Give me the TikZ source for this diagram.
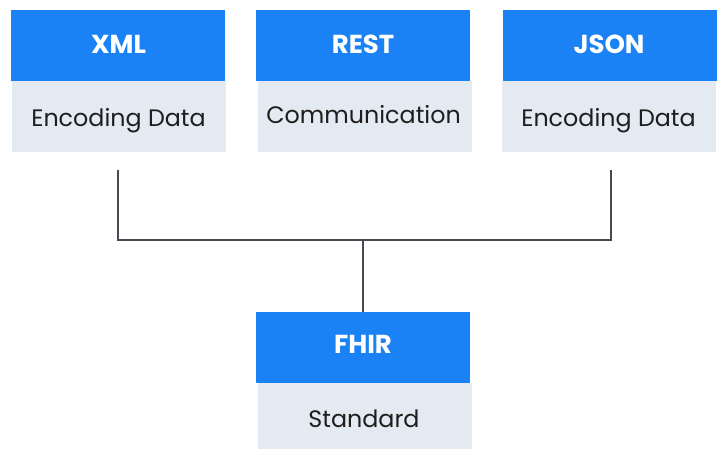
\documentclass[tikz,border=0pt]{standalone}
\usepackage{fontspec}
\setmainfont{Poppins}
\usetikzlibrary{calc}
\definecolor{hdrblue}{HTML}{1A82F5}
\definecolor{bodygrey}{HTML}{E4EAF2}
\definecolor{linegrey}{HTML}{464B53}
\definecolor{bodytext}{HTML}{1E1E1E}
\tikzset{
  hdr/.style={anchor=north west, fill=hdrblue, minimum width=214pt, minimum height=71pt,
    inner sep=0pt, outer sep=0pt},
  bodybox/.style={anchor=north west, fill=bodygrey, minimum width=214pt, minimum height=71pt,
    inner sep=0pt, outer sep=0pt},
  hdrtext/.style={anchor=base, text=white, font=\fontsize{26}{30}\selectfont\bfseries, inner sep=0pt},
  bodytxt/.style={anchor=base, text=bodytext, font=\fontsize{23.8}{28}\selectfont, inner sep=0pt},
  conn/.style={draw=linegrey, line width=1.4pt}
}
\begin{document}
\begin{tikzpicture}[x=1pt,y=-1pt]
\useasboundingbox (0,0) rectangle (722,448);
% boxes
\node[hdr] (xmlh) at (11,10) {};
\node[bodybox] (xmlb) at (12,81) {};
\node[hdr] (resth) at (256,10) {};
\node[bodybox] (restb) at (258,81) {};
\node[hdr] (jsonh) at (503,10) {};
\node[bodybox] (jsonb) at (502,81) {};
\node[hdr] (fhirh) at (256,312) {};
\node[bodybox, minimum height=67pt] (fhirb) at (258,383) {};
% texts
\node[hdrtext] (xmlt) at (118.5,53) {XML};
\node[bodytxt] (xmlbt) at (118.5,126) {Encoding Data};
\node[hdrtext] (restt) at (363,53) {REST};
\node[bodytxt] (restbt) at (363.5,123) {Communication};
\node[hdrtext] (jsont) at (609,53) {JSON};
\node[bodytxt] (jsonbt) at (608.5,126) {Encoding Data};
\node[hdrtext] (fhirt) at (363,353) {FHIR};
\node[bodytxt] (fhirbt) at (364,427) {Standard};
% connectors
\coordinate (bus) at (363,240);
\coordinate (xmlend) at (118,170);
\coordinate (jsonend) at (611,170);
\draw[conn] (xmlend) |- (bus) -| (jsonend);
\draw[conn] (bus) -- (fhirh.north);
\end{tikzpicture}
\end{document}
